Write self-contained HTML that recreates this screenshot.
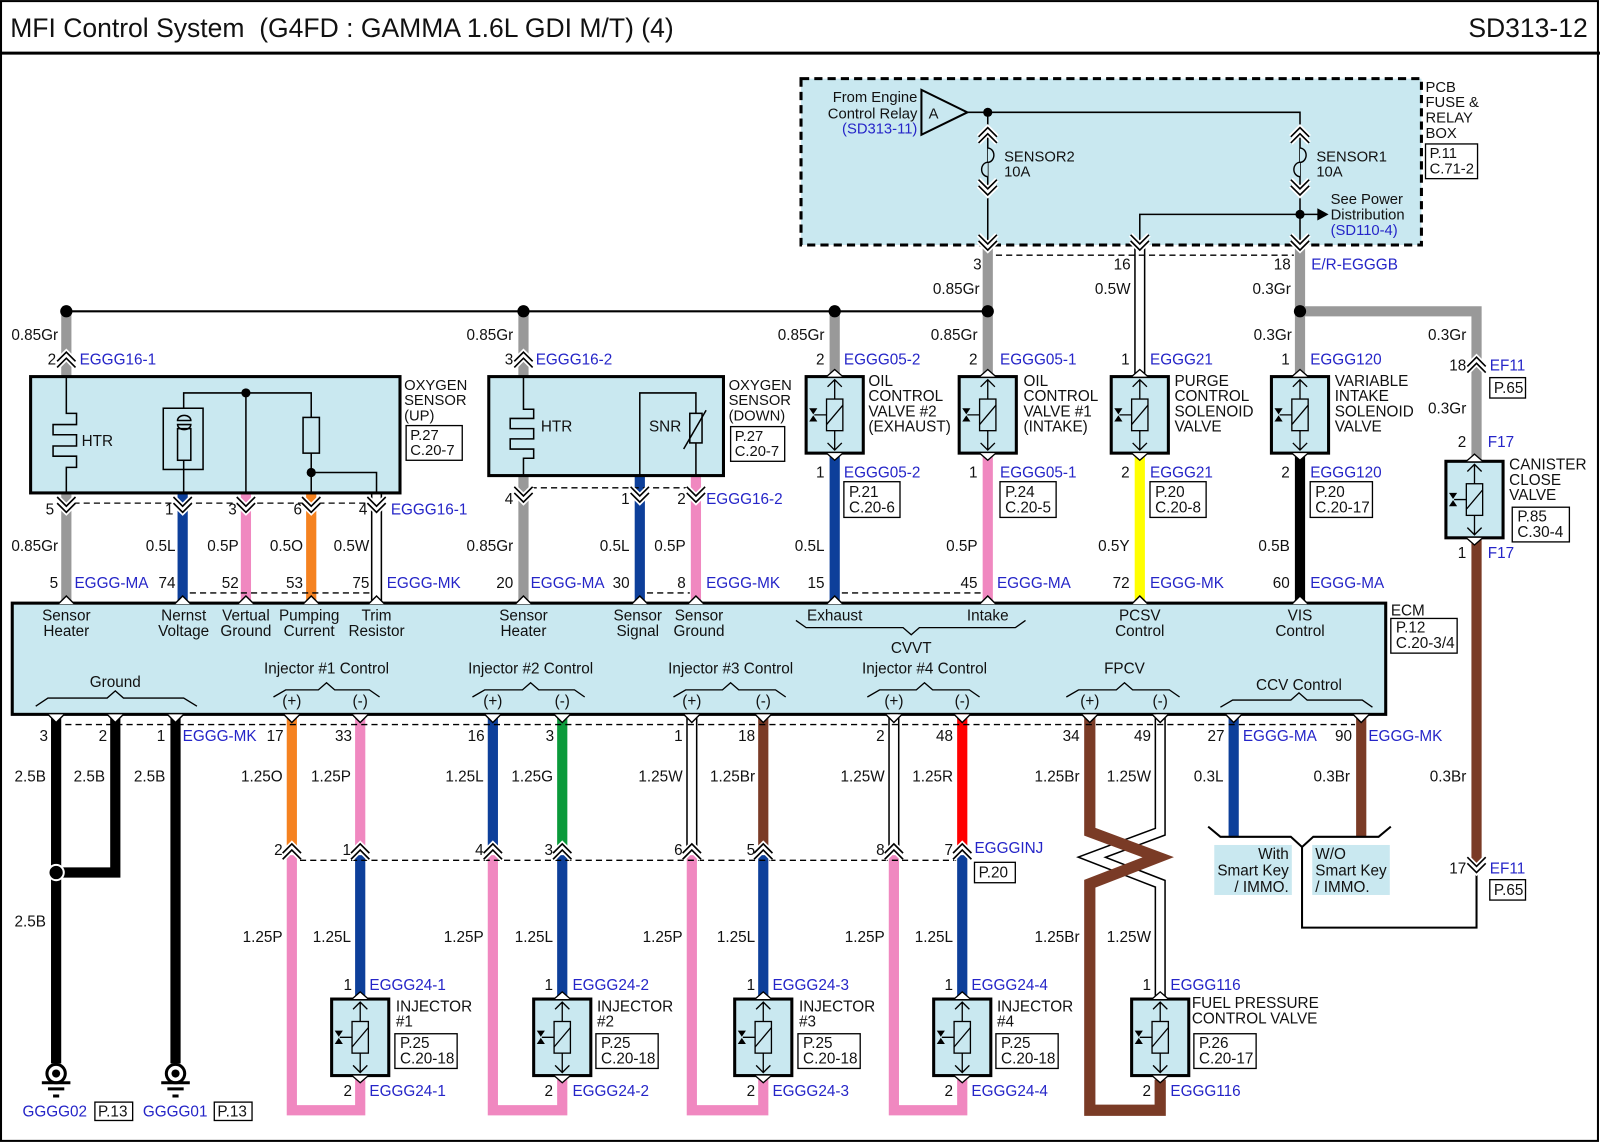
<!DOCTYPE html>
<html><head><meta charset="utf-8"><style>
html,body{margin:0;padding:0;background:#fff}
svg{display:block}
text{font-family:"Liberation Sans",sans-serif;font-size:15px;fill:#111}
.b{fill:#2525c8}.e{text-anchor:end}.m{text-anchor:middle}
.s{font-size:14.5px}
</style></head><body>
<svg width="1600" height="1143" viewBox="0 0 1568 1120" xmlns="http://www.w3.org/2000/svg">
<defs>
<g id="cu"><path d="M-9,4 L0,-5 L9,4 M-9,10 L0,1 L9,10" stroke="#fff" stroke-width="5" fill="none"/><path d="M-9,4 L0,-5 L9,4 M-9,10 L0,1 L9,10" stroke="#000" stroke-width="1.6" fill="none"/></g>
<g id="cd"><path d="M-9,-4 L0,5 L9,-4 M-9,-10 L0,-1 L9,-10" stroke="#fff" stroke-width="5" fill="none"/><path d="M-9,-4 L0,5 L9,-4 M-9,-10 L0,-1 L9,-10" stroke="#000" stroke-width="1.6" fill="none"/></g>
<path id="pu" d="M-8,0 L0,-8 L8,0" fill="#fff" stroke="#000" stroke-width="1.4"/>
<path id="pd" d="M-8,0 L0,8 L8,0" fill="#fff" stroke="#000" stroke-width="1.4"/>
<g id="valve">
<rect x="-28" y="0" width="56" height="75" fill="#c9e8f0" stroke="#000" stroke-width="3"/>
<path d="M0,3 V72 M-7,10 L0,3 L7,10 M-7,65 L0,72 L7,65" stroke="#000" stroke-width="1.3" fill="none"/>
<rect x="-8" y="22" width="16" height="31" fill="#c9e8f0" stroke="#000" stroke-width="1.3"/>
<path d="M-8,47 L8,28 M-20,37.5 H-8" stroke="#000" stroke-width="1.3"/>
<path d="M-25,31 L-17,31 L-21,37 Z M-25,44 L-17,44 L-21,38 Z" fill="#000"/>
<path d="M-8,0 L0,-7 L8,0 M-8,75 L0,82 L8,75" fill="#fff" stroke="#000" stroke-width="1.3"/>
</g>
<g id="gnd"><circle cx="0" cy="0" r="9" fill="#fff" stroke="#000" stroke-width="3"/><circle cx="0" cy="0" r="4" fill="#000"/><path d="M-14,9 H14 M-8,15 H8 M-3,22 H3" stroke="#000" stroke-width="3"/></g>
</defs>

<rect x="1" y="1" width="1565" height="1117" fill="none" stroke="#000" stroke-width="2"/>
<line x1="0" y1="52" x2="1568" y2="52" stroke="#000" stroke-width="3"/>
<text x="10" y="36" style="font-size:26px" xml:space="preserve">MFI Control System  (G4FD : GAMMA 1.6L GDI M/T) (4)</text>
<text x="1556" y="36" class="e" style="font-size:26px">SD313-12</text>

<rect x="785" y="77" width="608" height="163" fill="#c9e8f0" stroke="#000" stroke-width="3" stroke-dasharray="8,5"/>
<text x="1397" y="90" class="s">PCB</text><text x="1397" y="105" class="s">FUSE &amp;</text><text x="1397" y="120" class="s">RELAY</text><text x="1397" y="135" class="s">BOX</text>
<rect x="1397" y="141" width="51" height="34" fill="#fff" stroke="#000" stroke-width="1.3"/>
<text x="1401" y="155" class="s">P.11</text><text x="1401" y="170" class="s">C.71-2</text>
<polygon points="903,88 903,132 948,110" fill="#c9e8f0" stroke="#000" stroke-width="2"/>
<text x="910" y="116" class="s">A</text>
<text x="899" y="100" class="e s">From Engine</text><text x="899" y="116" class="e s">Control Relay</text><text x="899" y="131" class="e s b">(SD313-11)</text>
<path d="M948,110 H1274 V240 M968,110 V240 M1274,210 H1117 V240 M1274,210 H1292" stroke="#000" stroke-width="1.5" fill="none"/>
<polygon points="1291,204 1302,210 1291,216" fill="#000"/>
<circle cx="968" cy="110" r="4.5"/><circle cx="1274" cy="210" r="4.5"/>
<text x="1304" y="200" class="s">See Power</text><text x="1304" y="215" class="s">Distribution</text><text x="1304" y="230" class="s b">(SD110-4)</text>
<g fill="#c9e8f0" stroke="#000" stroke-width="1.4">
<path d="M968,145 a6,7 0 0 1 0,14 a6,7 0 0 0 0,14" />
<path d="M1274,145 a6,7 0 0 1 0,14 a6,7 0 0 0 0,14" />
</g>
<use href="#cu" x="968" y="130"/><use href="#cd" x="968" y="186"/>
<use href="#cu" x="1274" y="130"/><use href="#cd" x="1274" y="186"/>
<text x="984" y="158" class="s">SENSOR2</text><text x="984" y="173" class="s">10A</text>
<text x="1290" y="158" class="s">SENSOR1</text><text x="1290" y="173" class="s">10A</text>

<line x1="65" y1="305" x2="968" y2="305" stroke="#000" stroke-width="2"/>

<g stroke-width="10" fill="none">
<path d="M65,305 V372 M65,480 V592" stroke="#999"/>
<path d="M179,483 V592" stroke="#0d3f9a"/>
<path d="M241,483 V592" stroke="#f088c0"/>
<path d="M305,483 V592" stroke="#f58220"/>
<path d="M513,305 V372 M513,466 V592" stroke="#999"/>
<path d="M627,466 V592" stroke="#0d3f9a"/>
<path d="M682,466 V592" stroke="#f088c0"/>
<path d="M818,305 V367" stroke="#999"/>
<path d="M818,445 V592" stroke="#0d3f9a"/>
<path d="M968,243 V367" stroke="#999"/>
<path d="M968,445 V592" stroke="#f088c0"/>
<path d="M1117,243 V367" stroke="#000" stroke-width="11"/>
<path d="M1117,243 V367" stroke="#fff" stroke-width="8"/>
<path d="M1117,445 V592" stroke="#ffff00"/>
<path d="M1274,243 V367" stroke="#999"/>
<path d="M1274,305 H1447 V452" stroke="#999" stroke-linejoin="miter"/>
<path d="M1274,445 V592" stroke="#000"/>
<path d="M1447,526 V848" stroke="#7a3b26"/>
<path d="M369,483 V592" stroke="#000" stroke-width="11"/>
<path d="M369,483 V592" stroke="#fff" stroke-width="8"/>
</g>
<circle cx="65" cy="305" r="6"/><circle cx="513" cy="305" r="6"/><circle cx="818" cy="305" r="6"/><circle cx="968" cy="305" r="6"/><circle cx="1274" cy="305" r="6"/>

<line x1="976" y1="250" x2="1268" y2="250" stroke="#000" stroke-width="1.3" stroke-dasharray="6,4"/>
<use href="#cd" x="968" y="240"/><use href="#cd" x="1117" y="240"/><use href="#cd" x="1274" y="240"/>
<text x="962" y="264" class="e">3</text><text x="1108" y="264" class="e">16</text><text x="1265" y="264" class="e">18</text><text x="1285" y="264" class="b">E/R-EGGGB</text>
<text x="960" y="288" class="e">0.85Gr</text><text x="1108" y="288" class="e">0.5W</text><text x="1265" y="288" class="e">0.3Gr</text>

<text x="57" y="333" class="e">0.85Gr</text>
<use href="#cu" x="65" y="350"/>
<text x="55" y="357" class="e">2</text><text x="78" y="357" class="b">EGGG16-1</text>
<rect x="30" y="369" width="362" height="114" fill="#c9e8f0" stroke="#000" stroke-width="3"/>
<g stroke="#000" stroke-width="1.5" fill="none">
<path d="M65,370 V405 H75 V416 H52 V426 H75 V437 H52 V447 H75 V458 H65 V483"/>
<rect x="160" y="400" width="39" height="60"/>
<rect x="174" y="420" width="13" height="31"/>
<path d="M174,412 a6.5,5 0 0 1 13,0 Z M174,416 a6.5,5 0 0 0 13,0 Z"/>
<path d="M180,400 V385 H305 V409 M241,385 V483 M180,451 V483 M305,444 V483 M305,463 H369 V483"/>
<rect x="297" y="409" width="16" height="35"/>
</g>
<circle cx="241" cy="385" r="4.5"/><circle cx="305" cy="463" r="4.5"/>
<text x="80" y="437">HTR</text>
<text x="396" y="382" class="s">OXYGEN</text><text x="396" y="397" class="s">SENSOR</text><text x="396" y="412" class="s">(UP)</text>
<rect x="398" y="417" width="55" height="34" fill="#fff" stroke="#000" stroke-width="1.3"/>
<text x="402" y="431" class="s">P.27</text><text x="402" y="446" class="s">C.20-7</text>
<line x1="72" y1="493" x2="362" y2="493" stroke="#000" stroke-width="1.3" stroke-dasharray="6,4"/>
<use href="#cd" x="65" y="497"/><use href="#cd" x="179" y="497"/><use href="#cd" x="241" y="497"/><use href="#cd" x="305" y="497"/><use href="#cd" x="369" y="497"/>
<text x="53" y="504" class="e">5</text><text x="170" y="504" class="e">1</text><text x="232" y="504" class="e">3</text><text x="296" y="504" class="e">6</text><text x="360" y="504" class="e">4</text><text x="383" y="504" class="b">EGGG16-1</text>
<text x="57" y="540" class="e">0.85Gr</text><text x="172" y="540" class="e">0.5L</text><text x="234" y="540" class="e">0.5P</text><text x="297" y="540" class="e">0.5O</text><text x="362" y="540" class="e">0.5W</text>
<line x1="186" y1="581" x2="362" y2="581" stroke="#000" stroke-width="1.3" stroke-dasharray="6,4"/>
<text x="57" y="576" class="e">5</text><text x="73" y="576" class="b">EGGG-MA</text><text x="172" y="576" class="e">74</text><text x="234" y="576" class="e">52</text><text x="297" y="576" class="e">53</text><text x="362" y="576" class="e">75</text><text x="379" y="576" class="b">EGGG-MK</text>

<text x="503" y="333" class="e">0.85Gr</text>
<use href="#cu" x="513" y="350"/>
<text x="503" y="357" class="e">3</text><text x="525" y="357" class="b">EGGG16-2</text>
<rect x="479" y="369" width="230" height="97" fill="#c9e8f0" stroke="#000" stroke-width="3"/>
<g stroke="#000" stroke-width="1.5" fill="none">
<path d="M513,370 V401 H523 V410 H500 V420 H523 V430 H500 V440 H523 V449 H513 V466"/>
<path d="M627,466 V385 H682 V405 M682,434 V466"/>
<rect x="676" y="405" width="12" height="29"/>
<path d="M670,440 L692,402"/>
</g>
<text x="530" y="423">HTR</text><text x="636" y="423">SNR</text>
<text x="714" y="382" class="s">OXYGEN</text><text x="714" y="397" class="s">SENSOR</text><text x="714" y="412" class="s">(DOWN)</text>
<rect x="716" y="418" width="53" height="34" fill="#fff" stroke="#000" stroke-width="1.3"/>
<text x="720" y="432" class="s">P.27</text><text x="720" y="447" class="s">C.20-7</text>
<line x1="520" y1="478" x2="676" y2="478" stroke="#000" stroke-width="1.3" stroke-dasharray="6,4"/>
<use href="#cd" x="513" y="487"/><use href="#cd" x="627" y="487"/><use href="#cd" x="682" y="487"/>
<text x="503" y="494" class="e">4</text><text x="617" y="494" class="e">1</text><text x="672" y="494" class="e">2</text><text x="692" y="494" class="b">EGGG16-2</text>
<text x="503" y="540" class="e">0.85Gr</text><text x="617" y="540" class="e">0.5L</text><text x="672" y="540" class="e">0.5P</text>
<line x1="634" y1="581" x2="676" y2="581" stroke="#000" stroke-width="1.3" stroke-dasharray="6,4"/>
<text x="503" y="576" class="e">20</text><text x="520" y="576" class="b">EGGG-MA</text><text x="617" y="576" class="e">30</text><text x="672" y="576" class="e">8</text><text x="692" y="576" class="b">EGGG-MK</text>

<text x="808" y="333" class="e">0.85Gr</text><text x="958" y="333" class="e">0.85Gr</text><text x="1266" y="333" class="e">0.3Gr</text><text x="1437" y="333" class="e">0.3Gr</text>
<use href="#valve" x="818" y="369"/><use href="#valve" x="968" y="369"/><use href="#valve" x="1117" y="369"/><use href="#valve" x="1274" y="369"/>
<text x="808" y="357" class="e">2</text><text x="827" y="357" class="b">EGGG05-2</text>
<text x="958" y="357" class="e">2</text><text x="980" y="357" class="b">EGGG05-1</text>
<text x="1107" y="357" class="e">1</text><text x="1127" y="357" class="b">EGGG21</text>
<text x="1264" y="357" class="e">1</text><text x="1284" y="357" class="b">EGGG120</text>
<text x="851" y="378">OIL</text><text x="851" y="393">CONTROL</text><text x="851" y="408">VALVE #2</text><text x="851" y="423">(EXHAUST)</text>
<text x="1003" y="378">OIL</text><text x="1003" y="393">CONTROL</text><text x="1003" y="408">VALVE #1</text><text x="1003" y="423">(INTAKE)</text>
<text x="1151" y="378">PURGE</text><text x="1151" y="393">CONTROL</text><text x="1151" y="408">SOLENOID</text><text x="1151" y="423">VALVE</text>
<text x="1308" y="378">VARIABLE</text><text x="1308" y="393">INTAKE</text><text x="1308" y="408">SOLENOID</text><text x="1308" y="423">VALVE</text>
<text x="808" y="468" class="e">1</text><text x="827" y="468" class="b">EGGG05-2</text>
<text x="958" y="468" class="e">1</text><text x="980" y="468" class="b">EGGG05-1</text>
<text x="1107" y="468" class="e">2</text><text x="1127" y="468" class="b">EGGG21</text>
<text x="1264" y="468" class="e">2</text><text x="1284" y="468" class="b">EGGG120</text>
<g fill="#fff" stroke="#000" stroke-width="1.3">
<rect x="827" y="472" width="55" height="35"/><rect x="980" y="472" width="55" height="35"/><rect x="1127" y="472" width="55" height="35"/><rect x="1284" y="472" width="61" height="35"/>
</g>
<text x="832" y="487">P.21</text><text x="832" y="502">C.20-6</text>
<text x="985" y="487">P.24</text><text x="985" y="502">C.20-5</text>
<text x="1132" y="487">P.20</text><text x="1132" y="502">C.20-8</text>
<text x="1289" y="487">P.20</text><text x="1289" y="502">C.20-17</text>
<text x="808" y="540" class="e">0.5L</text><text x="958" y="540" class="e">0.5P</text><text x="1107" y="540" class="e">0.5Y</text><text x="1264" y="540" class="e">0.5B</text>
<line x1="825" y1="581" x2="961" y2="581" stroke="#000" stroke-width="1.3" stroke-dasharray="6,4"/>
<text x="808" y="576" class="e">15</text><text x="958" y="576" class="e">45</text><text x="977" y="576" class="b">EGGG-MA</text>
<text x="1107" y="576" class="e">72</text><text x="1127" y="576" class="b">EGGG-MK</text>
<text x="1264" y="576" class="e">60</text><text x="1284" y="576" class="b">EGGG-MA</text>

<use href="#cu" x="1447" y="355"/>
<text x="1437" y="363" class="e">18</text><text x="1460" y="363" class="b">EF11</text>
<rect x="1460" y="370" width="35" height="20" fill="#fff" stroke="#000" stroke-width="1.3"/><text x="1464" y="385">P.65</text>
<text x="1437" y="405" class="e">0.3Gr</text>
<text x="1437" y="438" class="e">2</text><text x="1458" y="438" class="b">F17</text>
<use href="#valve" x="1445" y="452"/>
<text x="1479" y="460">CANISTER</text><text x="1479" y="475">CLOSE</text><text x="1479" y="490">VALVE</text>
<rect x="1482" y="497" width="56" height="34" fill="#fff" stroke="#000" stroke-width="1.3"/>
<text x="1487" y="511">P.85</text><text x="1487" y="526">C.30-4</text>
<text x="1437" y="547" class="e">1</text><text x="1458" y="547" class="b">F17</text>

<rect x="12" y="591" width="1346" height="109" fill="#c9e8f0" stroke="#000" stroke-width="3"/>
<g>
<use href="#pu" x="65" y="592"/><use href="#pu" x="179" y="592"/><use href="#pu" x="241" y="592"/><use href="#pu" x="305" y="592"/><use href="#pu" x="369" y="592"/>
<use href="#pu" x="513" y="592"/><use href="#pu" x="627" y="592"/><use href="#pu" x="682" y="592"/><use href="#pu" x="818" y="592"/><use href="#pu" x="968" y="592"/><use href="#pu" x="1117" y="592"/><use href="#pu" x="1274" y="592"/>
</g>
<text x="1363" y="603">ECM</text>
<rect x="1363" y="606" width="65" height="34" fill="#fff" stroke="#000" stroke-width="1.3"/>
<text x="1368" y="620">P.12</text><text x="1368" y="635">C.20-3/4</text>
<g>
<text x="65" y="608" class="m">Sensor</text><text x="65" y="623" class="m">Heater</text>
<text x="180" y="608" class="m">Nernst</text><text x="180" y="623" class="m">Voltage</text>
<text x="241" y="608" class="m">Vertual</text><text x="241" y="623" class="m">Ground</text>
<text x="303" y="608" class="m">Pumping</text><text x="303" y="623" class="m">Current</text>
<text x="369" y="608" class="m">Trim</text><text x="369" y="623" class="m">Resistor</text>
<text x="513" y="608" class="m">Sensor</text><text x="513" y="623" class="m">Heater</text>
<text x="625" y="608" class="m">Sensor</text><text x="625" y="623" class="m">Signal</text>
<text x="685" y="608" class="m">Sensor</text><text x="685" y="623" class="m">Ground</text>
<text x="818" y="608" class="m">Exhaust</text><text x="968" y="608" class="m">Intake</text>
<text x="893" y="640" class="m">CVVT</text>
<text x="1117" y="608" class="m">PCSV</text><text x="1117" y="623" class="m">Control</text>
<text x="1274" y="608" class="m">VIS</text><text x="1274" y="623" class="m">Control</text>
<text x="113" y="673" class="m">Ground</text>
<text x="320" y="660" class="m">Injector #1 Control</text>
<text x="520" y="660" class="m">Injector #2 Control</text>
<text x="716" y="660" class="m">Injector #3 Control</text>
<text x="906" y="660" class="m">Injector #4 Control</text>
<text x="1102" y="660" class="m">FPCV</text>
<text x="1273" y="676" class="m">CCV Control</text>
<text x="286" y="692" class="m">(+)</text><text x="353" y="692" class="m">(-)</text>
<text x="483" y="692" class="m">(+)</text><text x="551" y="692" class="m">(-)</text>
<text x="678" y="692" class="m">(+)</text><text x="748" y="692" class="m">(-)</text>
<text x="876" y="692" class="m">(+)</text><text x="943" y="692" class="m">(-)</text>
<text x="1068" y="692" class="m">(+)</text><text x="1137" y="692" class="m">(-)</text>
</g>
<g stroke="#000" stroke-width="1.3" fill="none">
<path d="M780,608 L790,615 L885,615 L893,622 L901,615 L995,615 L1005,608"/>
<path d="M35,692 L47,684 L105,684 L113,677 L121,684 L180,684 L193,692"/>
<path d="M268,683 L280,676 L312,676 L320,669 L328,676 L362,676 L372,683"/>
<path d="M463,683 L475,676 L512,676 L520,669 L528,676 L563,676 L573,683"/>
<path d="M660,683 L672,676 L708,676 L716,669 L724,676 L760,676 L770,683"/>
<path d="M850,683 L862,676 L898,676 L906,669 L914,676 L950,676 L960,683"/>
<path d="M1045,683 L1057,676 L1094,676 L1102,669 L1110,676 L1146,676 L1156,683"/>
<path d="M1196,693 L1208,686 L1265,686 L1273,679 L1281,686 L1335,686 L1345,693"/>
</g>

<g stroke-width="10" fill="none" stroke-linejoin="miter">
<path d="M55,700 V1042" stroke="#000"/>
<path d="M113,700 V855 H55" stroke="#000"/>
<path d="M172,700 V1042" stroke="#000"/>
<path d="M286,700 V832" stroke="#f58220"/><path d="M353,700 V832" stroke="#f088c0"/>
<path d="M286,838 V1088 H353 V1058" stroke="#f088c0"/><path d="M353,838 V980" stroke="#0d3f9a"/>
<path d="M483,700 V832" stroke="#0d3f9a"/><path d="M551,700 V832" stroke="#0a9a3a"/>
<path d="M483,838 V1088 H551 V1058" stroke="#f088c0"/><path d="M551,838 V980" stroke="#0d3f9a"/>
<path d="M678,700 V832" stroke="#000" stroke-width="11"/><path d="M678,700 V832" stroke="#fff" stroke-width="8"/>
<path d="M748,700 V832" stroke="#7a3b26"/>
<path d="M678,838 V1088 H748 V1058" stroke="#f088c0"/><path d="M748,838 V980" stroke="#0d3f9a"/>
<path d="M876,700 V832" stroke="#000" stroke-width="11"/><path d="M876,700 V832" stroke="#fff" stroke-width="8"/>
<path d="M943,700 V832" stroke="#ff0000"/>
<path d="M876,838 V1088 H943 V1058" stroke="#f088c0"/><path d="M943,838 V980" stroke="#0d3f9a"/>
<path d="M1137,700 V815 L1070,840 L1137,866 V980" stroke="#000" stroke-width="11"/>
<path d="M1137,700 V815 L1070,840 L1137,866 V980" stroke="#fff" stroke-width="8"/>
<path d="M1068,700 V815 L1135,840 L1068,866 V1088 H1137 V1058" stroke="#7a3b26" stroke-width="11"/>
<path d="M1209,700 V820" stroke="#0d3f9a"/>
<path d="M1334,700 V820" stroke="#7a3b26"/>
</g>
<circle cx="55" cy="855" r="7.5" stroke="#fff" stroke-width="2"/>
<g>
<use href="#pd" x="55" y="700"/><use href="#pd" x="113" y="700"/><use href="#pd" x="172" y="700"/><use href="#pd" x="286" y="700"/><use href="#pd" x="353" y="700"/>
<use href="#pd" x="483" y="700"/><use href="#pd" x="551" y="700"/><use href="#pd" x="678" y="700"/><use href="#pd" x="748" y="700"/><use href="#pd" x="876" y="700"/><use href="#pd" x="943" y="700"/>
<use href="#pd" x="1068" y="700"/><use href="#pd" x="1137" y="700"/><use href="#pd" x="1209" y="700"/><use href="#pd" x="1334" y="700"/>
</g>
<line x1="64" y1="710" x2="1328" y2="710" stroke="#000" stroke-width="1.3" stroke-dasharray="6,4"/>
<text x="47" y="726" class="e">3</text><text x="105" y="726" class="e">2</text><text x="162" y="726" class="e">1</text><text x="179" y="726" class="b">EGGG-MK</text>
<text x="278" y="726" class="e">17</text><text x="345" y="726" class="e">33</text><text x="475" y="726" class="e">16</text><text x="543" y="726" class="e">3</text>
<text x="669" y="726" class="e">1</text><text x="740" y="726" class="e">18</text><text x="867" y="726" class="e">2</text><text x="934" y="726" class="e">48</text>
<text x="1058" y="726" class="e">34</text><text x="1128" y="726" class="e">49</text><text x="1200" y="726" class="e">27</text><text x="1218" y="726" class="b">EGGG-MA</text>
<text x="1325" y="726" class="e">90</text><text x="1341" y="726" class="b">EGGG-MK</text>
<text x="45" y="766" class="e">2.5B</text><text x="103" y="766" class="e">2.5B</text><text x="162" y="766" class="e">2.5B</text>
<text x="277" y="766" class="e">1.25O</text><text x="344" y="766" class="e">1.25P</text><text x="474" y="766" class="e">1.25L</text><text x="542" y="766" class="e">1.25G</text>
<text x="669" y="766" class="e">1.25W</text><text x="740" y="766" class="e">1.25Br</text><text x="867" y="766" class="e">1.25W</text><text x="934" y="766" class="e">1.25R</text>
<text x="1058" y="766" class="e">1.25Br</text><text x="1128" y="766" class="e">1.25W</text><text x="1199" y="766" class="e">0.3L</text><text x="1323" y="766" class="e">0.3Br</text><text x="1437" y="766" class="e">0.3Br</text>
<text x="45" y="908" class="e">2.5B</text>

<line x1="294" y1="843" x2="937" y2="843" stroke="#000" stroke-width="1.3" stroke-dasharray="6,4"/>
<use href="#cu" x="286" y="832"/><use href="#cu" x="353" y="832"/><use href="#cu" x="483" y="832"/><use href="#cu" x="551" y="832"/>
<use href="#cu" x="678" y="832"/><use href="#cu" x="748" y="832"/><use href="#cu" x="876" y="832"/><use href="#cu" x="943" y="832"/>
<text x="277" y="838" class="e">2</text><text x="344" y="838" class="e">1</text><text x="474" y="838" class="e">4</text><text x="542" y="838" class="e">3</text>
<text x="669" y="838" class="e">6</text><text x="740" y="838" class="e">5</text><text x="867" y="838" class="e">8</text><text x="934" y="838" class="e">7</text>
<text x="955" y="836" class="b">EGGGINJ</text>
<rect x="955" y="845" width="40" height="20" fill="#fff" stroke="#000" stroke-width="1.3"/><text x="959" y="860">P.20</text>
<text x="277" y="923" class="e">1.25P</text><text x="344" y="923" class="e">1.25L</text><text x="474" y="923" class="e">1.25P</text><text x="542" y="923" class="e">1.25L</text>
<text x="669" y="923" class="e">1.25P</text><text x="740" y="923" class="e">1.25L</text><text x="867" y="923" class="e">1.25P</text><text x="934" y="923" class="e">1.25L</text>
<text x="1058" y="923" class="e">1.25Br</text><text x="1128" y="923" class="e">1.25W</text>

<use href="#valve" x="353" y="979"/><use href="#valve" x="551" y="979"/><use href="#valve" x="748" y="979"/><use href="#valve" x="943" y="979"/><use href="#valve" x="1137" y="979"/>
<text x="345" y="970" class="e">1</text><text x="362" y="970" class="b">EGGG24-1</text>
<text x="542" y="970" class="e">1</text><text x="561" y="970" class="b">EGGG24-2</text>
<text x="740" y="970" class="e">1</text><text x="757" y="970" class="b">EGGG24-3</text>
<text x="934" y="970" class="e">1</text><text x="952" y="970" class="b">EGGG24-4</text>
<text x="1128" y="970" class="e">1</text><text x="1147" y="970" class="b">EGGG116</text>
<text x="345" y="1074" class="e">2</text><text x="362" y="1074" class="b">EGGG24-1</text>
<text x="542" y="1074" class="e">2</text><text x="561" y="1074" class="b">EGGG24-2</text>
<text x="740" y="1074" class="e">2</text><text x="757" y="1074" class="b">EGGG24-3</text>
<text x="934" y="1074" class="e">2</text><text x="952" y="1074" class="b">EGGG24-4</text>
<text x="1128" y="1074" class="e">2</text><text x="1147" y="1074" class="b">EGGG116</text>
<text x="388" y="991">INJECTOR</text><text x="388" y="1006">#1</text>
<text x="585" y="991">INJECTOR</text><text x="585" y="1006">#2</text>
<text x="783" y="991">INJECTOR</text><text x="783" y="1006">#3</text>
<text x="977" y="991">INJECTOR</text><text x="977" y="1006">#4</text>
<text x="1168" y="988">FUEL PRESSURE</text><text x="1168" y="1003">CONTROL VALVE</text>
<g fill="#fff" stroke="#000" stroke-width="1.3">
<rect x="387" y="1013" width="61" height="34"/><rect x="584" y="1013" width="61" height="34"/><rect x="782" y="1013" width="61" height="34"/><rect x="976" y="1013" width="61" height="34"/><rect x="1170" y="1013" width="61" height="34"/>
</g>
<text x="392" y="1027">P.25</text><text x="392" y="1042">C.20-18</text>
<text x="589" y="1027">P.25</text><text x="589" y="1042">C.20-18</text>
<text x="787" y="1027">P.25</text><text x="787" y="1042">C.20-18</text>
<text x="981" y="1027">P.25</text><text x="981" y="1042">C.20-18</text>
<text x="1175" y="1027">P.26</text><text x="1175" y="1042">C.20-17</text>

<use href="#gnd" x="55" y="1052"/><use href="#gnd" x="172" y="1052"/>
<text x="22" y="1094" class="b">GGGG02</text>
<rect x="93" y="1080" width="37" height="18" fill="#fff" stroke="#000" stroke-width="1.3"/><text x="96" y="1094">P.13</text>
<text x="140" y="1094" class="b">GGGG01</text>
<rect x="210" y="1080" width="37" height="18" fill="#fff" stroke="#000" stroke-width="1.3"/><text x="213" y="1094">P.13</text>

<path d="M1184,810 L1196,820 H1265 L1276,830 L1287,820 H1351 L1363,810 M1276,830 V909 H1447 V855" stroke="#000" stroke-width="2" fill="none"/>
<rect x="1190" y="828" width="76" height="49" fill="#c9e8f0"/>
<rect x="1286" y="828" width="76" height="49" fill="#c9e8f0"/>
<text x="1263" y="842" class="e">With</text><text x="1263" y="858" class="e">Smart Key</text><text x="1263" y="874" class="e">/ IMMO.</text>
<text x="1289" y="842">W/O</text><text x="1289" y="858">Smart Key</text><text x="1289" y="874">/ IMMO.</text>
<use href="#cd" x="1447" y="850"/>
<text x="1437" y="856" class="e">17</text><text x="1460" y="856" class="b">EF11</text>
<rect x="1460" y="862" width="35" height="20" fill="#fff" stroke="#000" stroke-width="1.3"/><text x="1464" y="877">P.65</text>
</svg>
</body></html>
